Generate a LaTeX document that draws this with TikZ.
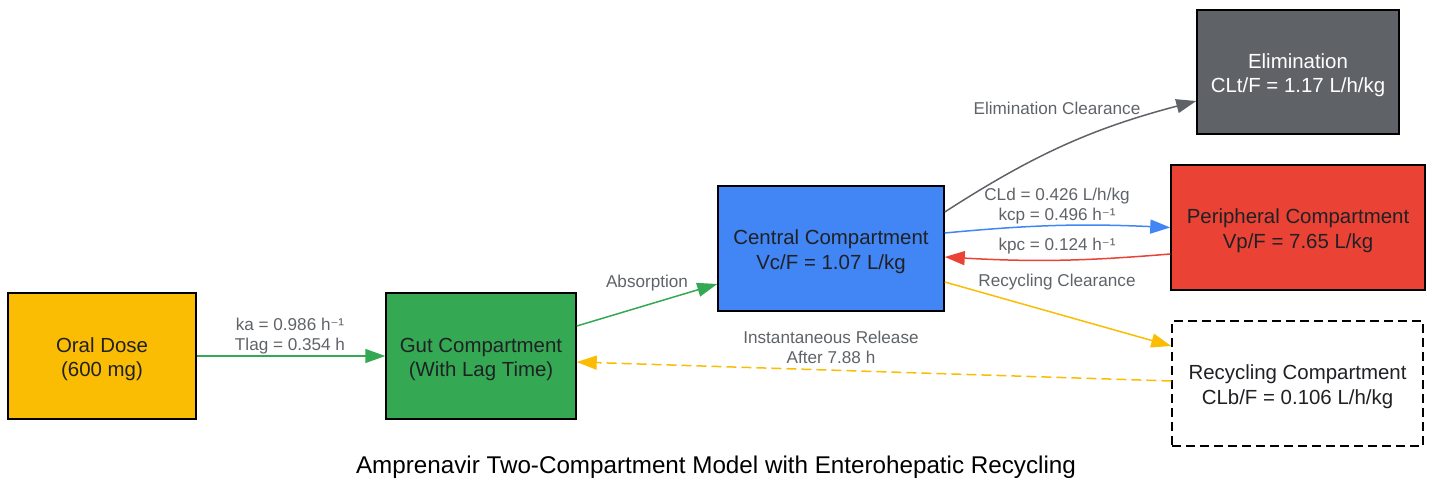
\documentclass[tikz,border=0pt]{standalone}
\usepackage{fontspec}
\setmainfont{Liberation Sans}
\newfontfamily\supfont{DejaVu Sans}
\usetikzlibrary{arrows.meta}
\definecolor{gyellow}{HTML}{FBBC04}
\definecolor{ggreen}{HTML}{34A853}
\definecolor{gblue}{HTML}{4285F4}
\definecolor{gred}{HTML}{EA4335}
\definecolor{ggray}{HTML}{5F6368}
\definecolor{gtext}{HTML}{202124}
\newcommand{\perh}{h{\supfont\fontsize{15}{15}\selectfont ⁻}¹}
\newcommand{\topstrut}{\rule{0pt}{21bp}}
\tikzset{
 box/.style={draw=black, line width=1.5bp, inner sep=0pt, align=center,
  text=gtext, font=\fontsize{20.5}{24.5}\selectfont},
 lbl/.style={inner sep=0pt, align=center, text=ggray,
  font=\fontsize{17.2}{20}\selectfont},
 flow/.style={line width=1.5bp, -{Triangle[length=20bp,width=14bp]}},
}
\begin{document}
\begin{tikzpicture}[x=1bp,y=-1bp]
 \useasboundingbox (0,0) rectangle (1433,481);
 \node[box, fill=gyellow, minimum width=188bp, minimum height=126bp] (oral) at (102,356) {\topstrut Oral Dose\\(600 mg)};
 \node[box, fill=ggreen, minimum width=190bp, minimum height=126bp] (gut) at (481,356) {\topstrut Gut Compartment\\(With Lag Time)};
 \node[box, fill=gblue, minimum width=226bp, minimum height=125bp] (central) at (831,248.5) {\topstrut Central Compartment\\Vc/F = 1.07 L/kg};
 \node[box, fill=ggray, text=white, minimum width=202bp, minimum height=124bp] (elim) at (1298,72) {\topstrut Elimination\\CLt/F = 1.17 L/h/kg};
 \node[box, fill=gred, minimum width=254bp, minimum height=125bp] (periph) at (1298,227.5) {\topstrut Peripheral Compartment\\Vp/F = 7.65 L/kg};
 \node[box, dashed, dash pattern=on 9bp off 5bp, fill=white, minimum width=251bp, minimum height=125bp] (recyc) at (1297.5,383.5) {\topstrut Recycling Compartment\\CLb/F = 0.106 L/h/kg};

 \draw [flow, color=ggreen] (oral) -- (gut);
 \draw [flow, color=ggreen] ([yshift=30bp]gut.east) -- ([yshift=-35.5bp]central.west);
 \draw [flow, color=ggray] ([yshift=36.5bp]central.east) to[bend left=9] ([yshift=-29bp]elim.west);
 \draw [flow, color=gblue] ([yshift=15.5bp]central.east) to[bend left=4] (periph.west);
 \draw [flow, color=gred] ([yshift=-26.5bp]periph.west) to[bend left=4] ([yshift=-8.5bp]central.east);
 \draw [flow, color=gyellow] ([yshift=-33.5bp]central.east) -- ([yshift=37.5bp]recyc.west);
 \draw [flow, color=gyellow, dash pattern=on 10bp off 5bp] ([yshift=2.5bp]recyc.west) -- ([yshift=-6bp]gut.east);

 \node[lbl] (lka) at (290,336) {ka = 0.986 \perh\\Tlag = 0.354 h};
 \node[lbl] (labs) at (647,283) {Absorption};
 \node[lbl] (lelim) at (1057,108) {Elimination Clearance};
 \node[lbl] (lcp) at (1057,206) {CLd = 0.426 L/h/kg\\kcp = 0.496 \perh};
 \node[lbl] (lpc) at (1057,246) {kpc = 0.124 \perh};
 \node[lbl] (lrec) at (1057,282) {Recycling Clearance};
 \node[lbl] (lrel) at (831,347) {Instantaneous Release\\After 7.88 h};
 \node[inner sep=0pt, text=black, font=\fontsize{24.3}{28}\selectfont] (title) at (716,467) {Amprenavir Two-Compartment Model with Enterohepatic Recycling};
\end{tikzpicture}
\end{document}
